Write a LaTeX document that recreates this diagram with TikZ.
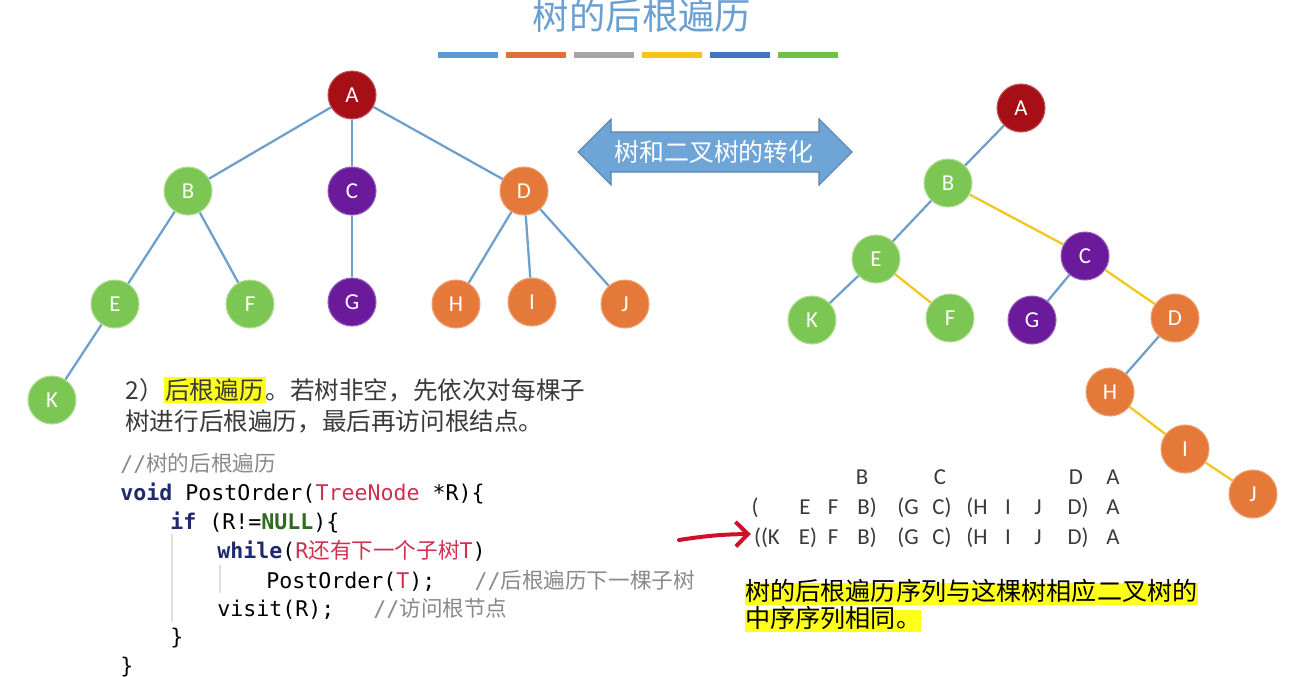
\documentclass[tikz,border=0pt]{standalone}
\usepackage{fontspec}
\setmainfont{Carlito}
\newfontfamily\zhfont{Noto Sans CJK SC}
\newfontfamily\codefont{DejaVu Sans Mono}
\usetikzlibrary{positioning,arrows.meta}
\definecolor{treered}{HTML}{A50F15}
\definecolor{treegreen}{HTML}{7CC653}
\definecolor{treepurple}{HTML}{6A1A9A}
\definecolor{treeorange}{HTML}{E4793A}
\definecolor{edgeblue}{HTML}{6C9FCB}
\definecolor{edgeyellow}{HTML}{F2C51F}
\definecolor{titleblue}{HTML}{6A9FD3}
\definecolor{arrowblue}{HTML}{6FA5D6}
\definecolor{barblue}{HTML}{5B9BD5}
\definecolor{barorange}{HTML}{E0703A}
\definecolor{bargray}{HTML}{A5A5A5}
\definecolor{baryellow}{HTML}{F5C518}
\definecolor{bardark}{HTML}{4472C4}
\definecolor{bargreen}{HTML}{70C045}
\definecolor{textgray}{HTML}{3A3A3A}
\definecolor{codenavy}{HTML}{1F2A6E}
\definecolor{codered}{HTML}{D0304F}
\definecolor{codegreen}{HTML}{2E6B1E}
\definecolor{codegray}{HTML}{8A8A8A}
\definecolor{penred}{HTML}{D0102A}
\definecolor{markyellow}{HTML}{FFFF1A}
\newcommand{\zhtext}[1]{{\zhfont #1}}

\begin{document}
\begin{tikzpicture}[x=0.02cm, y=-0.02cm, >=Stealth,
  treenode/.style={circle, minimum size=0.96cm, inner sep=0pt, line width=0.6pt, text=white, font=\fontsize{13}{13}\selectfont},
  nred/.style={treenode, fill=treered, draw=treered!70!white},
  ngreen/.style={treenode, fill=treegreen, draw=treegreen!60!white},
  npurple/.style={treenode, fill=treepurple, draw=treepurple!70!white},
  norange/.style={treenode, fill=treeorange, draw=treeorange!70!white},
  tedge/.style={edgeblue, line width=0.045cm},
  sedge/.style={edgeyellow, line width=0.045cm},
  codeline/.style={anchor=base west, inner sep=0pt, font=\codefont\fontsize{12.3}{14}\selectfont},
  seq/.style={anchor=base, inner sep=0pt, text=textgray, font=\fontsize{13}{13}\selectfont},
  zhline/.style={anchor=base west, inner sep=0pt, text=textgray, font=\zhfont\fontsize{14}{17}\selectfont},
  markline/.style={anchor=west, fill=markyellow, inner xsep=0pt, inner ysep=1pt, text height=0.88em, text depth=0.12em, font=\zhfont\fontsize{14.3}{17}\selectfont}
]
  \useasboundingbox[fill=white] (0,0) rectangle (1290,676);

  % title and colour bars
  \node[text=titleblue, inner sep=0pt, anchor=base, font=\zhfont\fontsize{20.7}{21}\selectfont] (title) at (642,30) {树的后根遍历};
  \foreach \c [count=\i from 0] in {barblue,barorange,bargray,baryellow,bardark,bargreen}
    \fill[\c] (438+\i*68,52) rectangle ++(60,6);

  % the tree
  \node[nred] (A) at (352,95) {A};
  \node[ngreen] (B) at (188,191) {B};
  \node[npurple] (C) at (352,191) {C};
  \node[norange] (D) at (524,191) {D};
  \node[ngreen] (E) at (115,304) {E};
  \node[ngreen] (F) at (250,304) {F};
  \node[npurple] (G) at (352,302) {G};
  \node[norange] (H) at (456,304) {H};
  \node[norange] (I) at (532,302) {I};
  \node[norange] (J) at (625,304) {J};
  \node[ngreen] (K) at (52,400) {K};
  \foreach \u/\v in {A/B,A/C,A/D,B/E,B/F,C/G,D/H,D/I,D/J,E/K}
    \draw[tedge] (\u) -- (\v);

  % conversion arrow
  \draw[fill=arrowblue, draw=arrowblue!80!black, line width=0.6pt]
    (578,152) -- (611,119) -- (611,132) -- (819,132) -- (819,119) -- (852,152)
    -- (819,185) -- (819,172) -- (611,172) -- (611,185) -- cycle;
  \node[text=white, font=\zhfont\fontsize{14.2}{15}\selectfont] (convert) at (714,152) {树和二叉树的转化};

  % the binary tree
  \node[nred] (bA) at (1021,108) {A};
  \node[ngreen] (bB) at (948,183) {B};
  \node[ngreen] (bE) at (876,259) {E};
  \node[npurple] (bC) at (1085,256) {C};
  \node[ngreen] (bK) at (812,320) {K};
  \node[ngreen] (bF) at (950,318) {F};
  \node[npurple] (bG) at (1032,320) {G};
  \node[norange] (bD) at (1175,318) {D};
  \node[norange] (bH) at (1110,392) {H};
  \node[norange] (bI) at (1185,449) {I};
  \node[norange] (bJ) at (1253,494) {J};
  \foreach \u/\v in {bA/bB,bB/bE,bE/bK,bC/bG,bD/bH}
    \draw[tedge] (\u) -- (\v);
  \foreach \u/\v in {bB/bC,bE/bF,bC/bD,bH/bI,bI/bJ}
    \draw[sedge] (\u) -- (\v);

  % rule text
  \node[zhline] (rule1) at (125,399) {2）{\setlength{\fboxsep}{1pt}\colorbox{markyellow}{后根遍历}}。若树非空，先依次对每棵子};
  \node[zhline] (rule2) at (125,430) {树进行后根遍历，最后再访问根结点。};

  % code
  \draw[gray!25, line width=0.6pt] (172,534) -- (172,622);
  \draw[gray!25, line width=0.6pt] (220,565) -- (220,593);
  \node[codeline, text=codegray] (code1) at (120,471) {//\zhtext{树的后根遍历}};
  \node[codeline] (code2) at (120,500) {\textcolor{codenavy}{\bfseries void} PostOrder(\textcolor{codered}{TreeNode} *R)\{};
  \node[codeline] (code3) at (170,529) {\textcolor{codenavy}{\bfseries if} (R!=\textcolor{codegreen}{\bfseries NULL})\{};
  \node[codeline] (code4) at (217,558) {\textcolor{codenavy}{\bfseries while}(\textcolor{codered}{R\zhtext{还有下一个子树}T})};
  \node[codeline] (code5) at (266,588) {PostOrder(\textcolor{codered}{T});~~~\textcolor{codegray}{//\zhtext{后根遍历下一棵子树}}};
  \node[codeline] (code6) at (217,616) {visit(R);~~~\textcolor{codegray}{//\zhtext{访问根节点}}};
  \node[codeline] (code7) at (170,644) {\}};
  \node[codeline] (code8) at (120,673) {\}};

  % sequences
  \foreach \x/\t in {862/B,940/C,1076/D,1113/A}
    \node[seq] at (\x,484) {\t};
  \foreach \x/\t in {755/(,805/E,833/F,867/B),908/(G,942/C),977/(H,1008/I,1038/J,1078/D),1113/A}
    \node[seq] at (\x,514) {\t};
  \foreach \x/\t in {808/E),833/F,867/B),908/(G,942/C),977/(H,1008/I,1038/J,1078/D),1113/A}
    \node[seq] at (\x,544) {\t};
  \node[seq] (first) at (767,544) {((K};
  \coordinate (pentail) at (679,540);
  \draw[penred, line width=0.08cm, line cap=round, -{Straight Barb[length=7pt,width=14pt]}]
    (pentail) to[bend left=4] ([xshift=-0.06cm]first.west |- 0,534);

  % conclusion
  \node[markline] (sum1) at (745,594) {树的后根遍历序列与这棵树相应二叉树的};
  \node[markline] (sum2) at (745,621) {中序序列相同。};
\end{tikzpicture}
\end{document}
